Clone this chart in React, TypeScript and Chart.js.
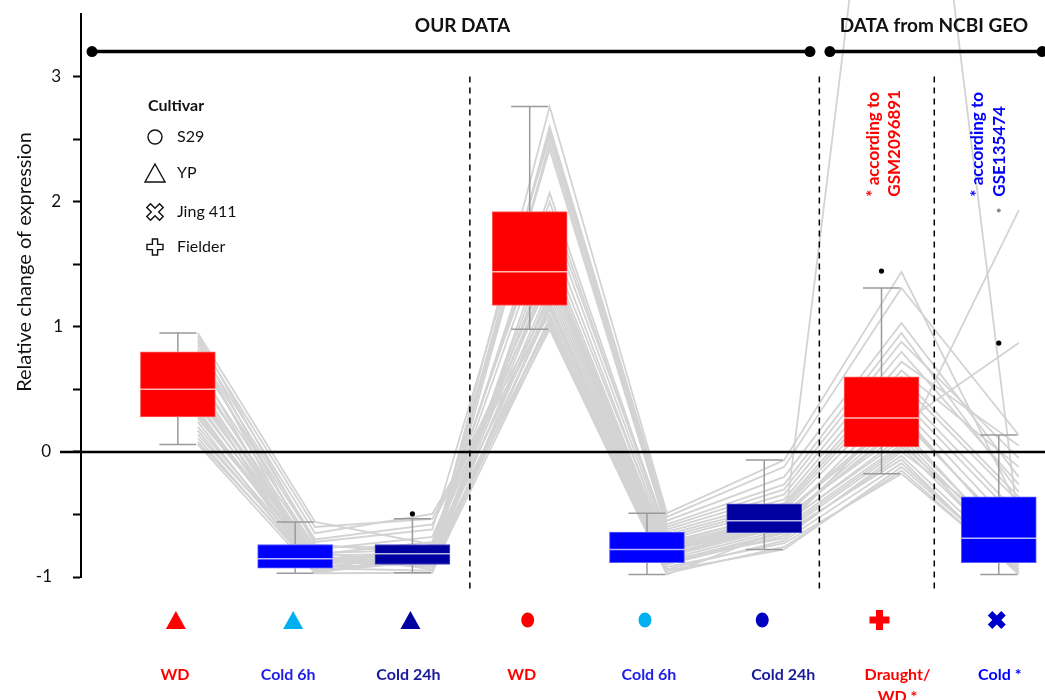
import React, { useEffect, useRef } from 'react';
import { Chart, registerables } from 'chart.js';

Chart.register(...registerables);

const FONT = 'Lato, "Open Sans", sans-serif';

// ---- groups along the x scale ----
const groupPos = [1, 2, 3, 4, 5, 6, 7, 8];
const groupLabels = [['WD'], ['Cold 6h'], ['Cold 24h'], ['WD'], ['Cold 6h'], ['Cold 24h'], ['Draught/', 'WD *'], ['Cold *']];
const groupMarkers = ['triangle', 'triangle', 'triangle', 'circle', 'circle', 'circle', 'plus', 'cross'];
const markerColors = ['#FF0000', '#00B0F0', '#0000A0', '#FF0000', '#00B0F0', '#0000C0', '#FF0000', '#0000CC'];
const labelColors = ['#FF0000', '#1E1EE6', '#1A1A9C', '#FF0000', '#1E1EE6', '#1A1A9C', '#FF0000', '#0000FF'];
const boxColors = ['#FF0000', '#0000FF', '#0000A0', '#FF0000', '#0000FF', '#0000A0', '#FF0000', '#0000FF'];
const boxEdges = ['#FF6060', '#5A5AFF', '#4A4AC8', '#FF6060', '#5A5AFF', '#4A4AC8', '#FF6060', '#5A5AFF'];

// ---- box statistics per group ----
const q1 = [0.28, -0.93, -0.9, 1.17, -0.885, -0.645, 0.04, -0.885];
const median = [0.5, -0.855, -0.815, 1.44, -0.78, -0.55, 0.27, -0.69];
const q3 = [0.8, -0.74, -0.74, 1.92, -0.64, -0.415, 0.6, -0.36];
const whiskerMin = [0.06, -0.97, -0.966, 0.98, -0.98, -0.78, -0.175, -0.98];
const whiskerMax = [0.95, -0.56, -0.535, 2.76, -0.49, -0.065, 1.31, 0.135];

// ---- outliers ----
const outlierPos = [3, 7, 8, 8];
const outlierVal = [-0.495, 1.445, 0.87, 1.93];
const outlierColor = ['#000000', '#000000', '#000000', '#8C8C8C'];

// ---- relative change per gene, one array per condition ----
const ypWD = [0.95, 0.93, 0.9, 0.88, 0.85, 0.82, 0.8, 0.78, 0.74, 0.7, 0.66, 0.62, 0.58, 0.55, 0.52, 0.5, 0.49, 0.46, 0.43, 0.4, 0.37, 0.34, 0.31, 0.29, 0.27, 0.24, 0.2, 0.17, 0.14, 0.11, 0.08, 0.06];
const ypCold6h = [-0.56, -0.74, -0.6, -0.85, -0.65, -0.93, -0.7, -0.8, -0.72, -0.95, -0.76, -0.86, -0.78, -0.9, -0.81, -0.97, -0.82, -0.88, -0.83, -0.91, -0.84, -0.94, -0.85, -0.87, -0.86, -0.96, -0.89, -0.93, -0.9, -0.95, -0.92, -0.97];
const ypCold24h = [-0.74, -0.82, -0.535, -0.9, -0.495, -0.8, -0.58, -0.94, -0.62, -0.86, -0.76, -0.91, -0.68, -0.83, -0.78, -0.966, -0.72, -0.88, -0.81, -0.75, -0.9, -0.79, -0.84, -0.92, -0.8, -0.87, -0.77, -0.95, -0.82, -0.85, -0.89, -0.81];
const s29WD = [1.43, 2.76, 1.2, 2.6, 1.1, 2.56, 1.36, 1.0, 2.52, 1.65, 1.18, 2.47, 1.48, 0.98, 2.42, 1.28, 1.92, 1.04, 2.07, 1.52, 1.14, 2.0, 1.4, 1.07, 1.85, 1.32, 1.02, 1.75, 1.24, 1.58, 1.16, 1.45];
const s29Cold6h = [-0.78, -0.49, -0.86, -0.52, -0.9, -0.55, -0.8, -0.97, -0.58, -0.72, -0.88, -0.6, -0.76, -0.98, -0.62, -0.83, -0.64, -0.94, -0.66, -0.75, -0.89, -0.68, -0.79, -0.92, -0.7, -0.82, -0.95, -0.74, -0.84, -0.77, -0.87, -0.78];
const s29Cold24h = [-0.55, -0.065, -0.62, -0.12, -0.67, -0.2, -0.56, -0.76, -0.26, -0.49, -0.64, -0.3, -0.52, -0.62, -0.34, -0.58, -0.38, -0.71, -0.41, -0.5, -0.65, -0.43, -0.54, -0.73, -0.45, -0.57, -0.78, -0.47, -0.6, -0.53, -0.69, -0.61];
const fielderDrought = [0.26, 1.44, 0.04, 1.31, -0.03, 1.03, 0.22, -0.15, 0.95, 0.31, 0.02, 0.88, 0.15, 7.0, 0.8, 0.12, 0.72, -0.09, 0.65, 0.28, -0.06, 0.6, 0.19, -0.175, 0.55, 0.09, -0.12, 0.48, 0.06, 0.42, 0.0, 0.36];
const jingCold = [-0.69, -0.45, -0.88, 0.135, -0.92, -0.2, 0.87, -0.97, -0.32, -0.75, 1.93, -0.05, -0.8, -0.6, -0.26, -0.86, 0.05, -0.95, -0.12, -0.72, -0.98, -0.36, -0.83, -0.96, -0.4, -0.9, -0.94, -0.5, -0.78, -0.55, -0.7, -0.64];
const geneSeries = [ypWD, ypCold6h, ypCold24h, s29WD, s29Cold6h, s29Cold24h, fielderDrought, jingCold];

// ---- axis text ----
const yTickValues = [3, 2, 1, 0, -1];
const yTitle = 'Relative change of expression';
const cultivars = ['S29', 'YP', 'Jing 411', 'Fielder'];
const cultivarSymbols = ['circle', 'triangle', 'cross', 'plus'];

// layout constants (x in scale units unless noted)
const LINE_SHIFT = 0.17;
const BOX_W = 75;
const CAP_W = 37;
const separators = [3.49, 6.47, 7.45];
const brackets = [
  { from: 0.268, to: 6.39, center: 3.427, text: 'OUR DATA' },
  { from: 6.56, to: 8.37, center: 7.447, text: 'DATA from NCBI GEO' },
];
const notes = [
  { x: [6.93, 7.115], lines: ['* according to', 'GSM2096891'], color: '#FF0000' },
  { x: [7.82, 8.005], lines: ['* according to', 'GSE135474'], color: '#0000FF' },
];
const tickNudge = [0, 0, 2, -10, -9];
const labelNudge = [-3, -7, -4, -8, 2, 19, 16, 1];

function polyShape(ctx: CanvasRenderingContext2D, cx: number, cy: number, a: number, t: number, rot: number) {
  const pts = [[-t, -a], [t, -a], [t, -t], [a, -t], [a, t], [t, t], [t, a], [-t, a], [-t, t], [-a, t], [-a, -t], [-t, -t]];
  const c = Math.cos(rot), s = Math.sin(rot);
  ctx.beginPath();
  pts.forEach(([px, py], i) => {
    const X = cx + px * c - py * s;
    const Y = cy + px * s + py * c;
    if (i === 0) ctx.moveTo(X, Y); else ctx.lineTo(X, Y);
  });
  ctx.closePath();
}

function symbolPath(ctx: CanvasRenderingContext2D, kind: string, cx: number, cy: number, filled: boolean) {
  if (kind === 'triangle') {
    ctx.beginPath();
    ctx.moveTo(cx, cy - 9);
    ctx.lineTo(cx + 10, cy + 9);
    ctx.lineTo(cx - 10, cy + 9);
    ctx.closePath();
  } else if (kind === 'circle') {
    ctx.beginPath();
    if (filled) ctx.ellipse(cx, cy, 6.5, 7.5, 0, 0, Math.PI * 2);
    else ctx.arc(cx, cy, 7, 0, Math.PI * 2);
  } else if (kind === 'plus') {
    polyShape(ctx, cx, cy, filled ? 10 : 8, filled ? 3.5 : 2.6, 0);
  } else {
    polyShape(ctx, cx, cy, filled ? 9.5 : 9, filled ? 3.2 : 2.6, Math.PI / 4);
  }
}

const decorations = {
  id: 'decorations',
  afterDatasetsDraw(chart: any) {
    const { ctx } = chart;
    const x = chart.scales.x;
    const y = chart.scales.y;
    ctx.save();
    // whiskers and caps
    ctx.strokeStyle = '#9A9A9A';
    ctx.lineWidth = 1.5;
    groupPos.forEach((p, i) => {
      const cx = x.getPixelForValue(p);
      const segs = [
        [y.getPixelForValue(q3[i]), y.getPixelForValue(whiskerMax[i])],
        [y.getPixelForValue(q1[i]), y.getPixelForValue(whiskerMin[i])],
      ];
      segs.forEach(([a, b]) => {
        ctx.beginPath();
        ctx.moveTo(cx, a);
        ctx.lineTo(cx, b);
        ctx.moveTo(cx - CAP_W / 2, b);
        ctx.lineTo(cx + CAP_W / 2, b);
        ctx.stroke();
      });
    });
    // medians
    ctx.strokeStyle = 'rgba(255,255,255,0.72)';
    ctx.lineWidth = 1.5;
    groupPos.forEach((p, i) => {
      const cx = x.getPixelForValue(p);
      const my = y.getPixelForValue(median[i]);
      ctx.beginPath();
      ctx.moveTo(cx - BOX_W / 2, my);
      ctx.lineTo(cx + BOX_W / 2, my);
      ctx.stroke();
    });
    // zero line
    const y0 = y.getPixelForValue(0);
    ctx.strokeStyle = '#000';
    ctx.lineWidth = 2.5;
    ctx.beginPath();
    ctx.moveTo(60, y0);
    ctx.lineTo(chart.width, y0);
    ctx.stroke();
    // dashed separators
    ctx.lineWidth = 1.5;
    ctx.setLineDash([6, 5]);
    separators.forEach((s) => {
      const sx = x.getPixelForValue(s);
      ctx.beginPath();
      ctx.moveTo(sx, y.getPixelForValue(3.0));
      ctx.lineTo(sx, y.getPixelForValue(-1.1));
      ctx.stroke();
    });
    ctx.setLineDash([]);
    ctx.restore();
  },
  afterDraw(chart: any) {
    const { ctx } = chart;
    const x = chart.scales.x;
    const y = chart.scales.y;
    ctx.save();

    // y tick labels
    ctx.fillStyle = '#111';
    ctx.font = `17px ${FONT}`;
    ctx.textAlign = 'right';
    ctx.textBaseline = 'middle';
    yTickValues.forEach((v, i) => {
      ctx.fillText(String(v), 61 + tickNudge[i], y.getPixelForValue(v));
    });

    // y title
    ctx.save();
    ctx.translate(25, 262);
    ctx.rotate(-Math.PI / 2);
    ctx.textAlign = 'center';
    ctx.textBaseline = 'middle';
    ctx.font = `20px ${FONT}`;
    ctx.fillStyle = '#111';
    ctx.fillText(yTitle, 0, 0);
    ctx.restore();

    // brackets with headers
    const by = y.getPixelForValue(3.2);
    brackets.forEach((b) => {
      const x1 = x.getPixelForValue(b.from);
      const x2 = x.getPixelForValue(b.to);
      ctx.strokeStyle = '#000';
      ctx.fillStyle = '#000';
      ctx.lineWidth = 3.5;
      ctx.beginPath();
      ctx.moveTo(x1, by);
      ctx.lineTo(x2, by);
      ctx.stroke();
      [x1, x2].forEach((px) => {
        ctx.beginPath();
        ctx.arc(px, by, 5.5, 0, Math.PI * 2);
        ctx.fill();
      });
      ctx.font = `bold 19px ${FONT}`;
      ctx.textAlign = 'center';
      ctx.textBaseline = 'middle';
      ctx.fillStyle = '#111';
      ctx.fillText(b.text, x.getPixelForValue(b.center), 26);
    });

    // vertical notes
    notes.forEach((n) => {
      n.lines.forEach((line, k) => {
        ctx.save();
        ctx.translate(x.getPixelForValue(n.x[k]), y.getPixelForValue(2.04));
        ctx.rotate(-Math.PI / 2);
        ctx.font = `bold 17px ${FONT}`;
        ctx.fillStyle = n.color;
        ctx.textAlign = 'left';
        ctx.textBaseline = 'middle';
        ctx.fillText(line, 0, 0);
        ctx.restore();
      });
    });

    // cultivar legend
    ctx.fillStyle = '#111';
    ctx.textAlign = 'left';
    ctx.textBaseline = 'middle';
    ctx.font = `bold 16px ${FONT}`;
    ctx.fillText('Cultivar', 148, 106);
    const legendY = [137, 173, 212, 247];
    ctx.font = `16px ${FONT}`;
    cultivars.forEach((c, i) => {
      ctx.strokeStyle = '#111';
      ctx.lineWidth = 1.4;
      symbolPath(ctx, cultivarSymbols[i], 155, legendY[i], false);
      ctx.stroke();
      ctx.fillText(c, 177, legendY[i]);
    });

    // condition markers and labels under the axis
    groupPos.forEach((p, i) => {
      const cx = x.getPixelForValue(p);
      ctx.fillStyle = markerColors[i];
      symbolPath(ctx, groupMarkers[i], cx - 2, 620, true);
      ctx.fill();
      ctx.fillStyle = labelColors[i];
      ctx.font = `bold 16px ${FONT}`;
      ctx.textAlign = 'center';
      ctx.textBaseline = 'middle';
      groupLabels[i].forEach((t, k) => {
        ctx.fillText(t, cx + labelNudge[i], 675 + k * 22);
      });
    });
    ctx.restore();
  },
};

export default function App() {
  const ref = useRef<HTMLCanvasElement | null>(null);

  useEffect(() => {
    document.body.style.margin = '0';
    const canvas = ref.current;
    if (!canvas) return;

    const geneDatasets = ypWD.map((_, g) => ({
      type: 'line' as const,
      data: geneSeries.map((arr, i) => ({ x: groupPos[i] + LINE_SHIFT, y: arr[g] })),
      borderColor: '#D3D3D3',
      borderWidth: 1.8,
      pointRadius: 0,
      tension: 0,
      clip: false as any,
      order: 3,
    }));

    const chart = new Chart(canvas, {
      type: 'bar',
      data: {
        datasets: [
          ...geneDatasets,
          {
            type: 'bar' as const,
            data: groupPos.map((p, i) => ({ x: p, y: [q1[i], q3[i]] })) as any,
            backgroundColor: boxColors,
            borderColor: boxEdges,
            borderWidth: 1,
            borderSkipped: false,
            barThickness: BOX_W,
            order: 2,
          },
          {
            type: 'scatter' as const,
            data: outlierPos.map((p, i) => ({ x: p, y: outlierVal[i] })),
            pointRadius: [2.6, 2.6, 2.6, 2],
            pointBackgroundColor: outlierColor,
            pointBorderWidth: 0,
            order: 1,
          },
        ] as any,
      },
      options: {
        responsive: false,
        animation: false,
        devicePixelRatio: 1,
        layout: { padding: { top: 14, bottom: 123, left: 0, right: 0 } },
        plugins: { legend: { display: false }, tooltip: { enabled: false } },
        scales: {
          x: { type: 'linear', min: 0.174, max: 8.36, display: false, offset: false },
          y: {
            type: 'linear',
            min: -1,
            max: 3.5,
            afterFit: (s: any) => {
              s.width = 81;
            },
            ticks: { stepSize: 0.5, display: false },
            grid: {
              drawOnChartArea: false,
              drawTicks: true,
              tickLength: 8,
              tickWidth: 2,
              tickColor: (c: any) => (c.tick && c.tick.value === 3.5 ? 'rgba(0,0,0,0)' : '#000'),
            },
            border: { display: true, color: '#000', width: 2 },
          },
        } as any,
      },
      plugins: [decorations],
    });

    return () => chart.destroy();
  }, []);

  return (
    <div style={{ width: 1045, height: 700, position: 'relative', background: '#fff' }}>
      <canvas ref={ref} width={1045} height={700} style={{ display: 'block' }} />
    </div>
  );
}
